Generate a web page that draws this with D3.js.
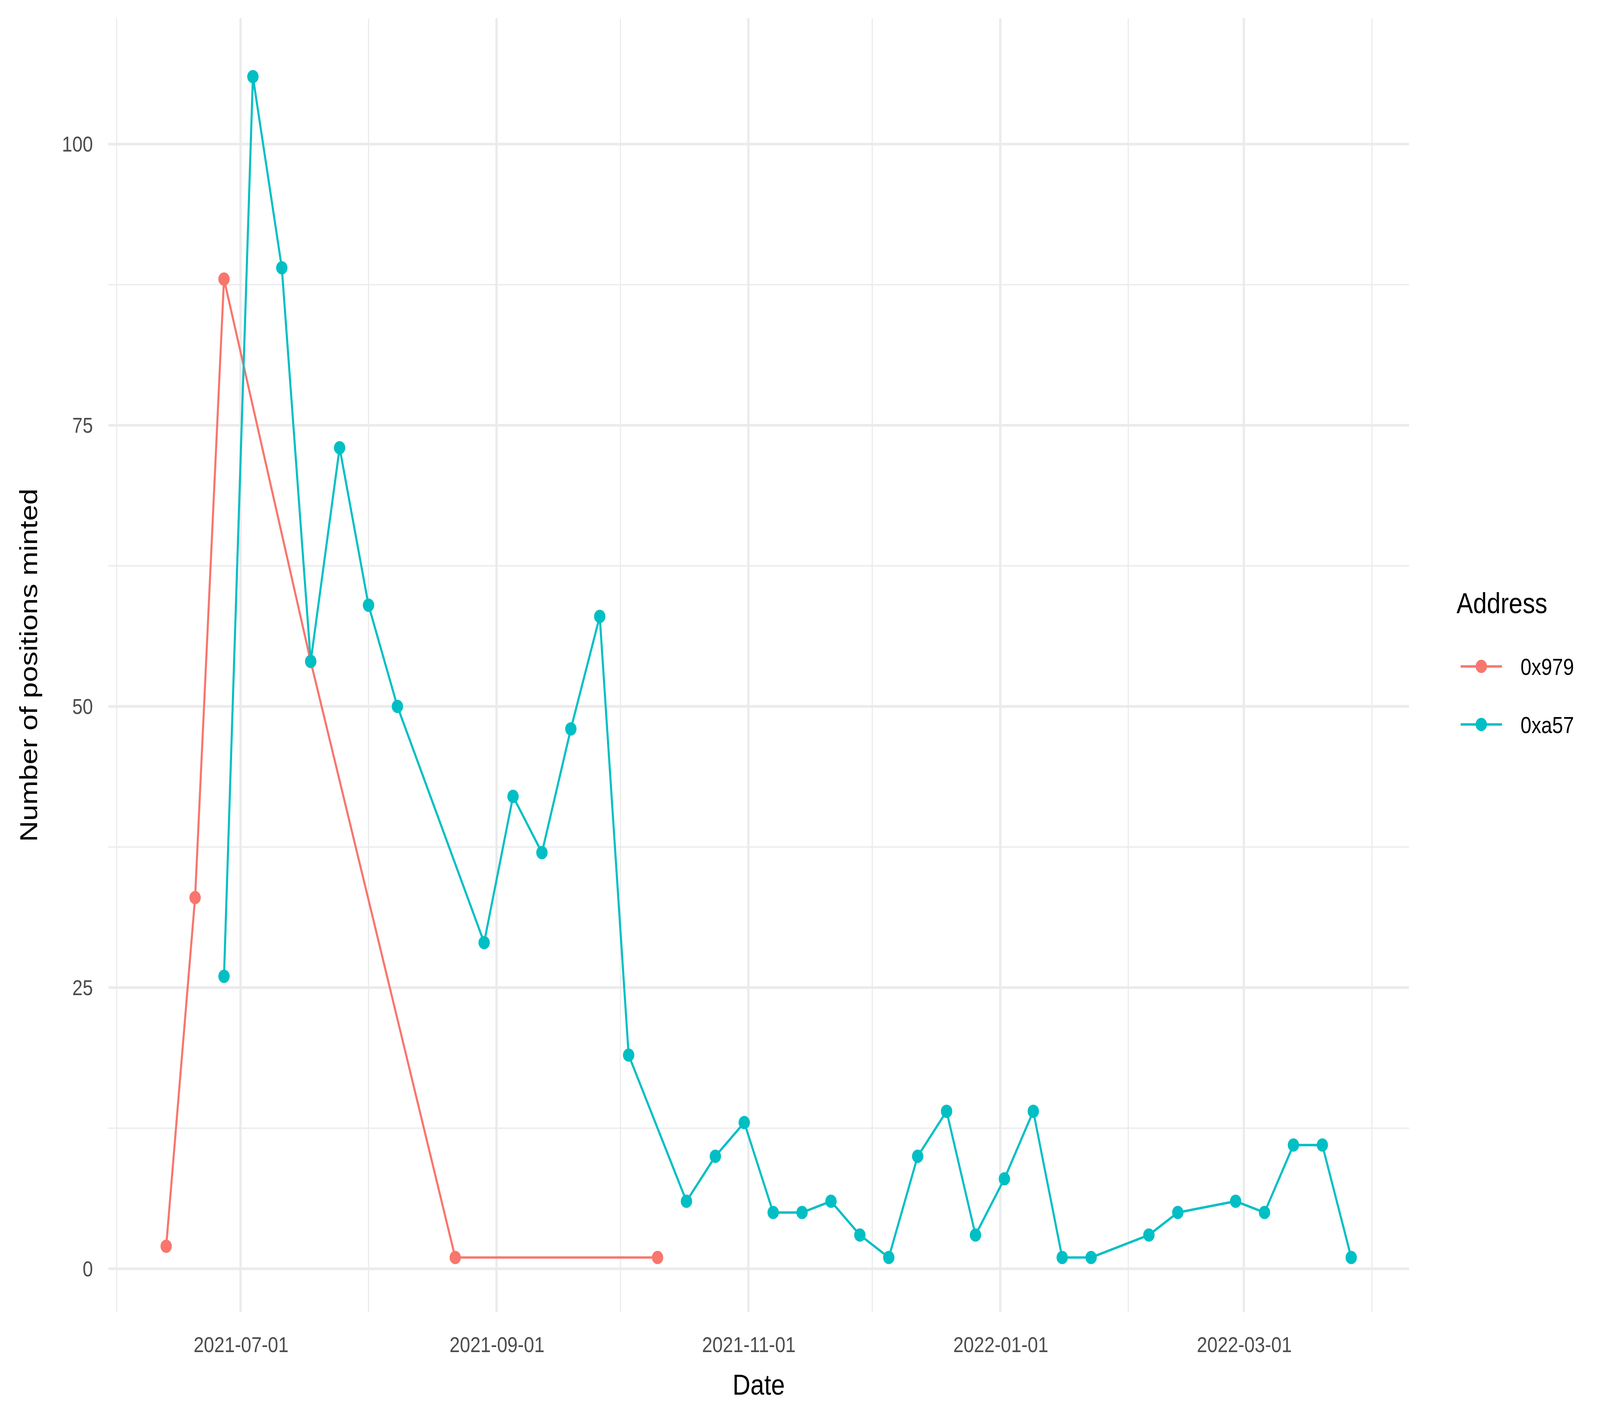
<!DOCTYPE html>
<html><head><meta charset="utf-8">
<script src="https://cdn.jsdelivr.net/npm/d3@7"></script>
<style>html,body{margin:0;padding:0;background:#fff;overflow:hidden;width:100%;height:100%}svg{display:block}</style></head>
<body><script>
const redDates=["2021-06-13","2021-06-20","2021-06-27","2021-07-18","2021-08-22","2021-10-10"];
const redValues=[2,33,88,54,1,1];
const tealDates=["2021-06-27","2021-07-04","2021-07-11","2021-07-18","2021-07-25","2021-08-01","2021-08-08","2021-08-29","2021-09-05","2021-09-12","2021-09-19","2021-09-26","2021-10-03","2021-10-17","2021-10-24","2021-10-31","2021-11-07","2021-11-14","2021-11-21","2021-11-28","2021-12-05","2021-12-12","2021-12-19","2021-12-26","2022-01-02","2022-01-09","2022-01-16","2022-01-23","2022-02-06","2022-02-13","2022-02-27","2022-03-06","2022-03-13","2022-03-20","2022-03-27"];
const tealValues=[26,106,89,54,73,59,50,29,42,37,48,58,19,6,10,13,5,5,6,3,1,10,14,3,8,14,1,1,3,5,6,5,11,11,1];
const xTicks=["2021-07-01","2021-09-01","2021-11-01","2022-01-01","2022-03-01"];
const xMinor=["2021-06-01","2021-08-01","2021-10-01","2021-12-01","2022-02-01","2022-04-01"];
const yTicks=[0,25,50,75,100];
const yMinor=[12.5,37.5,62.5,87.5];
const seriesNames=["0x979","0xa57"];
const colors=["#F8766D","#00BFC4"];

const P=d3.utcParse("%Y-%m-%d");
const svg=d3.select("body").append("svg").attr("width","100%").attr("height","100%")
 .attr("viewBox","0 0 1550 1162.5").attr("preserveAspectRatio","none").style("font-family","Liberation Sans, Arial, sans-serif");
const L=105,R=1365,T=15,B=1085;
const x=d3.scaleUtc().domain([P("2021-05-30"),P("2022-04-10")]).range([L,R]);
const y=d3.scaleLinear().domain([-3.87,111.2]).range([B,T]);
const g=svg.append("g");
xMinor.forEach(d=>g.append("line").attr("x1",x(P(d))).attr("x2",x(P(d))).attr("y1",T).attr("y2",B).attr("stroke","#ebebeb").attr("stroke-width",1.1));
yMinor.forEach(d=>g.append("line").attr("x1",L).attr("x2",R).attr("y1",y(d)).attr("y2",y(d)).attr("stroke","#ebebeb").attr("stroke-width",1.1));
xTicks.forEach(d=>g.append("line").attr("x1",x(P(d))).attr("x2",x(P(d))).attr("y1",T).attr("y2",B).attr("stroke","#ebebeb").attr("stroke-width",2.2));
yTicks.forEach(d=>g.append("line").attr("x1",L).attr("x2",R).attr("y1",y(d)).attr("y2",y(d)).attr("stroke","#ebebeb").attr("stroke-width",2.2));
const ax=svg.append("g").attr("transform",`translate(0,${B})`).call(d3.axisBottom(x).tickValues(xTicks.map(P)).tickFormat(d3.utcFormat("%Y-%m-%d")).tickSize(0).tickPadding(20));
ax.select(".domain").remove();
ax.selectAll("text").attr("font-size",18).attr("fill","#4d4d4d").attr("font-family","Liberation Sans, Arial, sans-serif");
const ay=svg.append("g").attr("transform",`translate(${L},0)`).call(d3.axisLeft(y).tickValues(yTicks).tickSize(0).tickPadding(15));
ay.select(".domain").remove();
ay.selectAll("text").attr("font-size",18).attr("fill","#4d4d4d").attr("font-family","Liberation Sans, Arial, sans-serif");
const series=[redDates.map((d,i)=>[P(d),redValues[i]]),tealDates.map((d,i)=>[P(d),tealValues[i]])];
const line=d3.line().x(d=>x(d[0])).y(d=>y(d[1]));
series.forEach((s,k)=>{
 svg.append("path").attr("d",line(s)).attr("fill","none").attr("stroke",colors[k]).attr("stroke-width",2);
 svg.append("g").selectAll("circle").data(s).join("circle").attr("cx",d=>x(d[0])).attr("cy",d=>y(d[1])).attr("r",5.5).attr("fill",colors[k]);
});
svg.append("text").attr("x",(L+R)/2).attr("y",1153).attr("text-anchor","middle").attr("font-size",24).text("Date");
svg.append("text").attr("transform","translate(36,550) rotate(-90)").attr("text-anchor","middle").attr("font-size",24).text("Number of positions minted");
svg.append("text").attr("x",1411).attr("y",507).attr("font-size",24).text("Address");
seriesNames.forEach((n,k)=>{
 const yy=551+k*48;
 svg.append("line").attr("x1",1415).attr("x2",1455).attr("y1",yy).attr("y2",yy).attr("stroke",colors[k]).attr("stroke-width",2);
 svg.append("circle").attr("cx",1435).attr("cy",yy).attr("r",5.5).attr("fill",colors[k]);
 svg.append("text").attr("x",1473).attr("y",yy+7).attr("font-size",19).text(n);
});
</script></body></html>
